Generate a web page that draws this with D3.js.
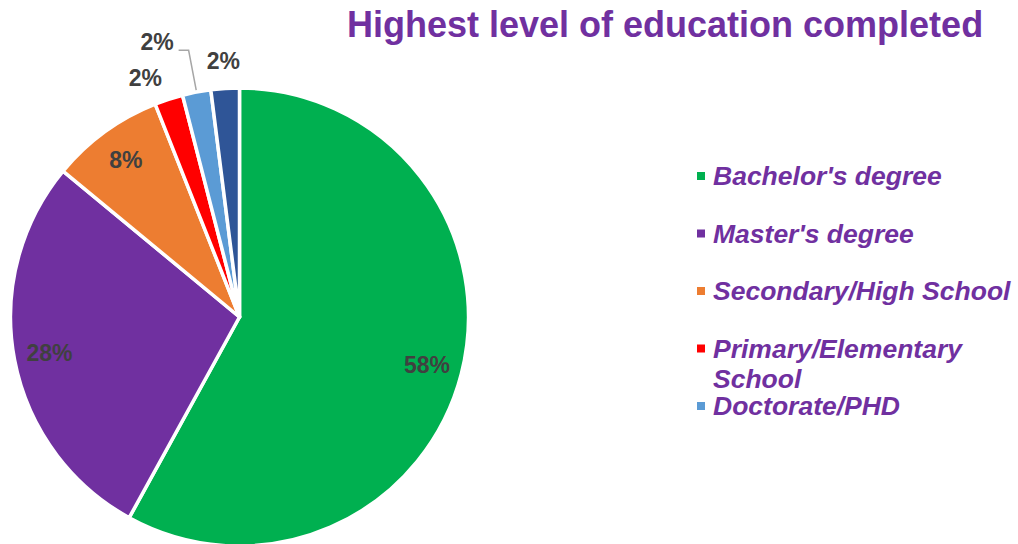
<!DOCTYPE html>
<html>
<head>
<meta charset="utf-8">
<script src="https://cdn.jsdelivr.net/npm/d3@7"></script>
<style>
  html, body { margin: 0; padding: 0; background: #ffffff; }
  svg { display: block; }
</style>
</head>
<body>
<svg id="chart" width="1018" height="544"></svg>
<script>
// Survey result: highest level of education completed (percent of respondents)
const title = "Highest level of education completed";
const categories = [
  "Bachelor's degree",
  "Master's degree",
  "Secondary/High School",
  "Primary/Elementary School",
  "Doctorate/PHD",
  "Other"
];
const shares = [58, 28, 8, 2, 2, 2];
const colors = ["#00B050", "#7030A0", "#ED7D31", "#FF0000", "#5B9BD5", "#2F5597"];
// the legend box only has room for the first five entries
const legendCount = 5;

const data = categories.map((c, i) => ({ name: c, value: shares[i], color: colors[i] }));

const svg = d3.select("#chart");
const cx = 239.5, cy = 317, R = 229;

// ---- title ----
svg.append("text")
  .attr("x", 347).attr("y", 37)
  .attr("font-family", "'Liberation Sans', Arial, sans-serif")
  .attr("font-weight", "bold")
  .attr("font-size", 36)
  .attr("fill", "#7030A0")
  .text(title);

// ---- pie ----
const pie = d3.pie().value(d => d.value).sort(null).startAngle(0).endAngle(2 * Math.PI);
const arcs = pie(data);
const arc = d3.arc().innerRadius(0).outerRadius(R);

const g = svg.append("g").attr("transform", `translate(${cx},${cy})`);
g.selectAll("path.slice")
  .data(arcs)
  .join("path")
  .attr("class", "slice")
  .attr("d", arc)
  .attr("fill", d => d.data.color)
  .attr("stroke", "#ffffff")
  .attr("stroke-width", 3.5)
  .attr("stroke-linejoin", "round");

// ---- data labels ----
const polar = (angle, radius) => [Math.sin(angle) * radius, -Math.cos(angle) * radius];
const labelFont = { family: "'Liberation Sans', Arial, sans-serif", size: 23, fill: "#404040" };
const fmt = v => Math.round(v) + "%";

function addLabel(x, y, text, anchor) {
  g.append("text")
    .attr("x", x).attr("y", y)
    .attr("text-anchor", anchor || "middle")
    .attr("font-family", labelFont.family)
    .attr("font-weight", "bold")
    .attr("font-size", labelFont.size)
    .attr("fill", labelFont.fill)
    .text(text);
}

const large = arcs.filter(d => d.data.value >= 5);
const small = arcs.filter(d => d.data.value < 5);

// large slices: label inside near the rim
const inner = d3.arc().innerRadius(R * 0.845).outerRadius(R * 0.845);
large.forEach(d => {
  const [x, y] = inner.centroid(d);
  addLabel(x, y + 8, fmt(d.data.value));
});

// small slices: label just beyond the rim; the crowded middle one is lifted out with a leader line
small.forEach((d, k) => {
  const mid = (d.startAngle + d.endAngle) / 2;
  if (k === 1 && small.length === 3) {
    const start = polar(mid, R + 2);
    const elbow = polar(mid, R + 42.5);
    const end = [elbow[0] - 10, elbow[1]];
    g.append("polyline")
      .attr("points", [start, elbow, end].map(p => p.join(",")).join(" "))
      .attr("fill", "none")
      .attr("stroke", "#A6A6A6")
      .attr("stroke-width", 1.5);
    addLabel(elbow[0] - 15, elbow[1], fmt(d.data.value), "end");
  } else {
    // the first one is eased counter-clockwise to clear the leader line
    const a = k === 0 && small.length === 3 ? mid - 3.5 * Math.PI / 180 : mid;
    const [x, y] = polar(a, R + 28);
    addLabel(x, y + 8, fmt(d.data.value));
  }
});

// ---- legend ----
const legend = svg.append("g");
const legendX = 697, legendY0 = 185, legendStep = 57.5, lineGap = 30, maxTextWidth = 312;
data.slice(0, legendCount).forEach((d, i) => {
  const base = legendY0 + i * legendStep;
  legend.append("rect")
    .attr("x", legendX).attr("y", base - 13)
    .attr("width", 8).attr("height", 8)
    .attr("fill", d.color);
  const t = legend.append("text")
    .attr("x", legendX + 16).attr("y", base)
    .attr("font-family", "'Liberation Sans', Arial, sans-serif")
    .attr("font-weight", "bold")
    .attr("font-style", "italic")
    .attr("font-size", 26.5)
    .attr("fill", "#7030A0");
  // word wrap to the legend width
  const words = d.name.split(" ");
  let line = [];
  let tspan = t.append("tspan").attr("x", legendX + 16).attr("y", base);
  let lineNo = 0;
  words.forEach(w => {
    line.push(w);
    tspan.text(line.join(" "));
    if (tspan.node().getComputedTextLength() > maxTextWidth && line.length > 1) {
      line.pop();
      tspan.text(line.join(" "));
      line = [w];
      lineNo++;
      tspan = t.append("tspan").attr("x", legendX + 16).attr("y", base + lineNo * lineGap).text(w);
    }
  });
});
</script>
</body>
</html>
